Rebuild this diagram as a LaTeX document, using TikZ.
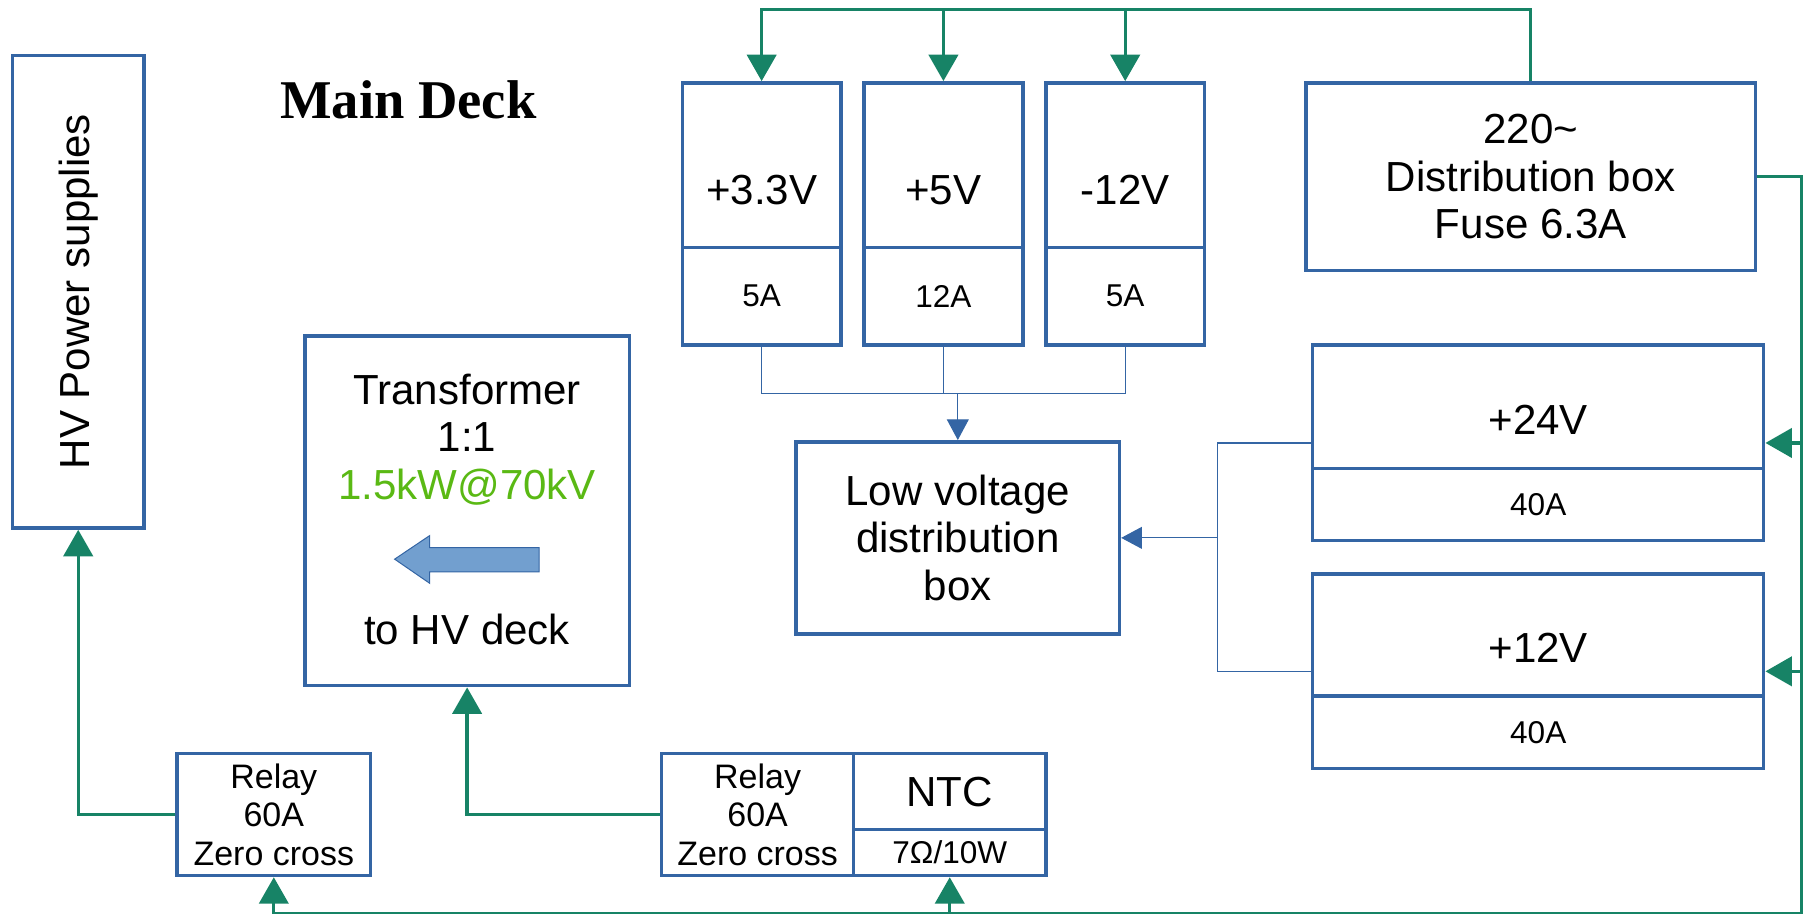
\documentclass[tikz,border=0pt]{standalone}
\usepackage{fontspec}
\setmainfont{Liberation Sans}
\newfontfamily\decofont{Liberation Serif}
\usetikzlibrary{arrows.meta,calc}
\definecolor{boxblue}{RGB}{52,101,164}
\definecolor{feedgreen}{RGB}{23,131,102}
\definecolor{powgreen}{RGB}{90,185,20}
\definecolor{arrowblue}{RGB}{114,159,207}
\newcommand\bigfont{\fontsize{20.8}{23.5}\selectfont}
\newcommand\smallfont{\fontsize{15.6}{18}\selectfont}
\newcommand\relayfont{\fontsize{16.8}{19.1}\selectfont}

\begin{document}
\begin{tikzpicture}[every node/.style={inner sep=0pt, align=center, font=\bigfont},
    box/.style={draw=boxblue, line width=1.7pt},
    feed/.style={draw=feedgreen, line width=1.6pt},
    feedarrow/.style={feed, -{Triangle[length=0.46cm,width=0.51cm]}},
    lvline/.style={draw=boxblue, line width=0.6pt},
    lvarrow/.style={lvline, -{Triangle[length=0.36cm,width=0.38cm]}}]
      \useasboundingbox (0,0) rectangle (31.36,-15.88);

      \node (title) at (7.10,-1.73) {\decofont\bfseries\fontsize{27}{30}\selectfont Main Deck};

      \node[box, minimum width=2.28cm, minimum height=8.22cm] (hv) at (1.36,-5.07) {};
      \node[rotate=90] (hvt) at (1.36,-5.07) {HV Power supplies};

      \node[box, minimum width=5.64cm, minimum height=6.08cm] (trafo) at (8.12,-8.88) {};
      \node (trafot) at (8.12,-7.64) {Transformer\\1:1\\\textcolor{powgreen}{1.5kW@70kV}};
      \node (hvdeck) at (8.12,-10.94) {to HV deck};
      \draw[draw=boxblue, fill=arrowblue, line width=0.5pt] (6.86,-9.72) -- (7.47,-9.31)
        -- (7.47,-9.52) -- (9.37,-9.52) -- (9.37,-9.94) -- (7.47,-9.94) -- (7.47,-10.14) -- cycle;

      \node[box, minimum width=2.76cm, minimum height=2.86cm] (v33) at (13.24,-2.87) {};
      \node[box, minimum width=2.76cm, minimum height=1.70cm, font=\smallfont] (v33i) at (13.24,-5.15) {5A};
      \node (v33t) at (13.24,-3.30) {+3.3V};
      \node[box, minimum width=2.76cm, minimum height=2.86cm] (v5) at (16.40,-2.87) {};
      \node[box, minimum width=2.76cm, minimum height=1.70cm, font=\smallfont] (v5i) at (16.40,-5.15) {12A};
      \node (v5t) at (16.40,-3.30) {+5V};
      \node[box, minimum width=2.76cm, minimum height=2.86cm] (vm12) at (19.56,-2.87) {};
      \node[box, minimum width=2.76cm, minimum height=1.70cm, font=\smallfont] (vm12i) at (19.56,-5.15) {5A};
      \node (vm12t) at (19.56,-3.30) {-12V};

      \node[box, minimum width=7.82cm, minimum height=3.26cm] (dist) at (26.61,-3.07) {220\textasciitilde\\Distribution box\\Fuse 6.3A};

      \node[box, minimum width=7.84cm, minimum height=2.14cm] (v24) at (26.74,-7.07) {};
      \node[box, minimum width=7.84cm, minimum height=1.26cm, font=\smallfont] (v24i) at (26.74,-8.77) {40A};
      \node (v24t) at (26.74,-7.30) {+24V};
      \node[box, minimum width=7.84cm, minimum height=2.12cm] (v12) at (26.74,-11.04) {};
      \node[box, minimum width=7.84cm, minimum height=1.26cm, font=\smallfont] (v12i) at (26.74,-12.73) {40A};
      \node (v12t) at (26.74,-11.26) {+12V};

      \node[box, minimum width=5.62cm, minimum height=3.34cm] (lv) at (16.65,-9.35) {Low voltage\\distribution\\box};

      \node[box, minimum width=3.36cm, minimum height=2.12cm, font=\relayfont] (relay1) at (4.76,-14.16) {Relay\\60A\\Zero cross};
      \node[box, minimum width=3.34cm, minimum height=2.12cm, font=\relayfont] (relay2) at (13.17,-14.16) {Relay\\60A\\Zero cross};
      \node[box, minimum width=3.34cm, minimum height=1.32cm] (ntc) at (16.51,-13.76) {NTC};
      \node[box, minimum width=3.34cm, minimum height=0.80cm, font=\smallfont] (ntci) at (16.51,-14.82) {7Ω/10W};

      \coordinate (bus) at (0,-0.16);
      \coordinate (rail) at (31.32,-15.88);
      \coordinate (m24) at (26.74,-7.70);
      \coordinate (m12) at (26.74,-11.67);
      \coordinate (lvbus) at (0,-6.84);
      \coordinate (sidebus) at (21.16,0);

      % mains feed
      \draw[feedarrow] (dist.north) |- (v33.north |- bus) -- (v33.north);
      \draw[feedarrow] (v5.north |- bus) -- (v5.north);
      \draw[feedarrow] (vm12.north |- bus) -- (vm12.north);
      \draw[feedarrow] (dist.east) -| (rail) -| (relay1.south);
      \draw[feedarrow] (rail -| ntci.south) -- (ntci.south);
      \draw[feedarrow] (rail |- m24) -- (m24 -| v24.east);
      \draw[feedarrow] (rail |- m12) -- (m12 -| v12.east);
      \draw[feedarrow] (relay1.west) -| (hv.south);
      \draw[feedarrow] (relay2.west) -| (trafo.south);

      % low voltage
      \draw[lvline] (v33i.south) |- (vm12i.south |- lvbus) -- (vm12i.south);
      \draw[lvline] (v5i.south) -- (v5i.south |- lvbus);
      \draw[lvarrow] (lv.north |- lvbus) -- (lv.north);
      \draw[lvline] (m24 -| v24.west) -| (sidebus |- m12) -- (m12 -| v12.west);
      \draw[lvarrow] (sidebus |- lv.east) -- (lv.east);
    \end{tikzpicture}
\end{document}
